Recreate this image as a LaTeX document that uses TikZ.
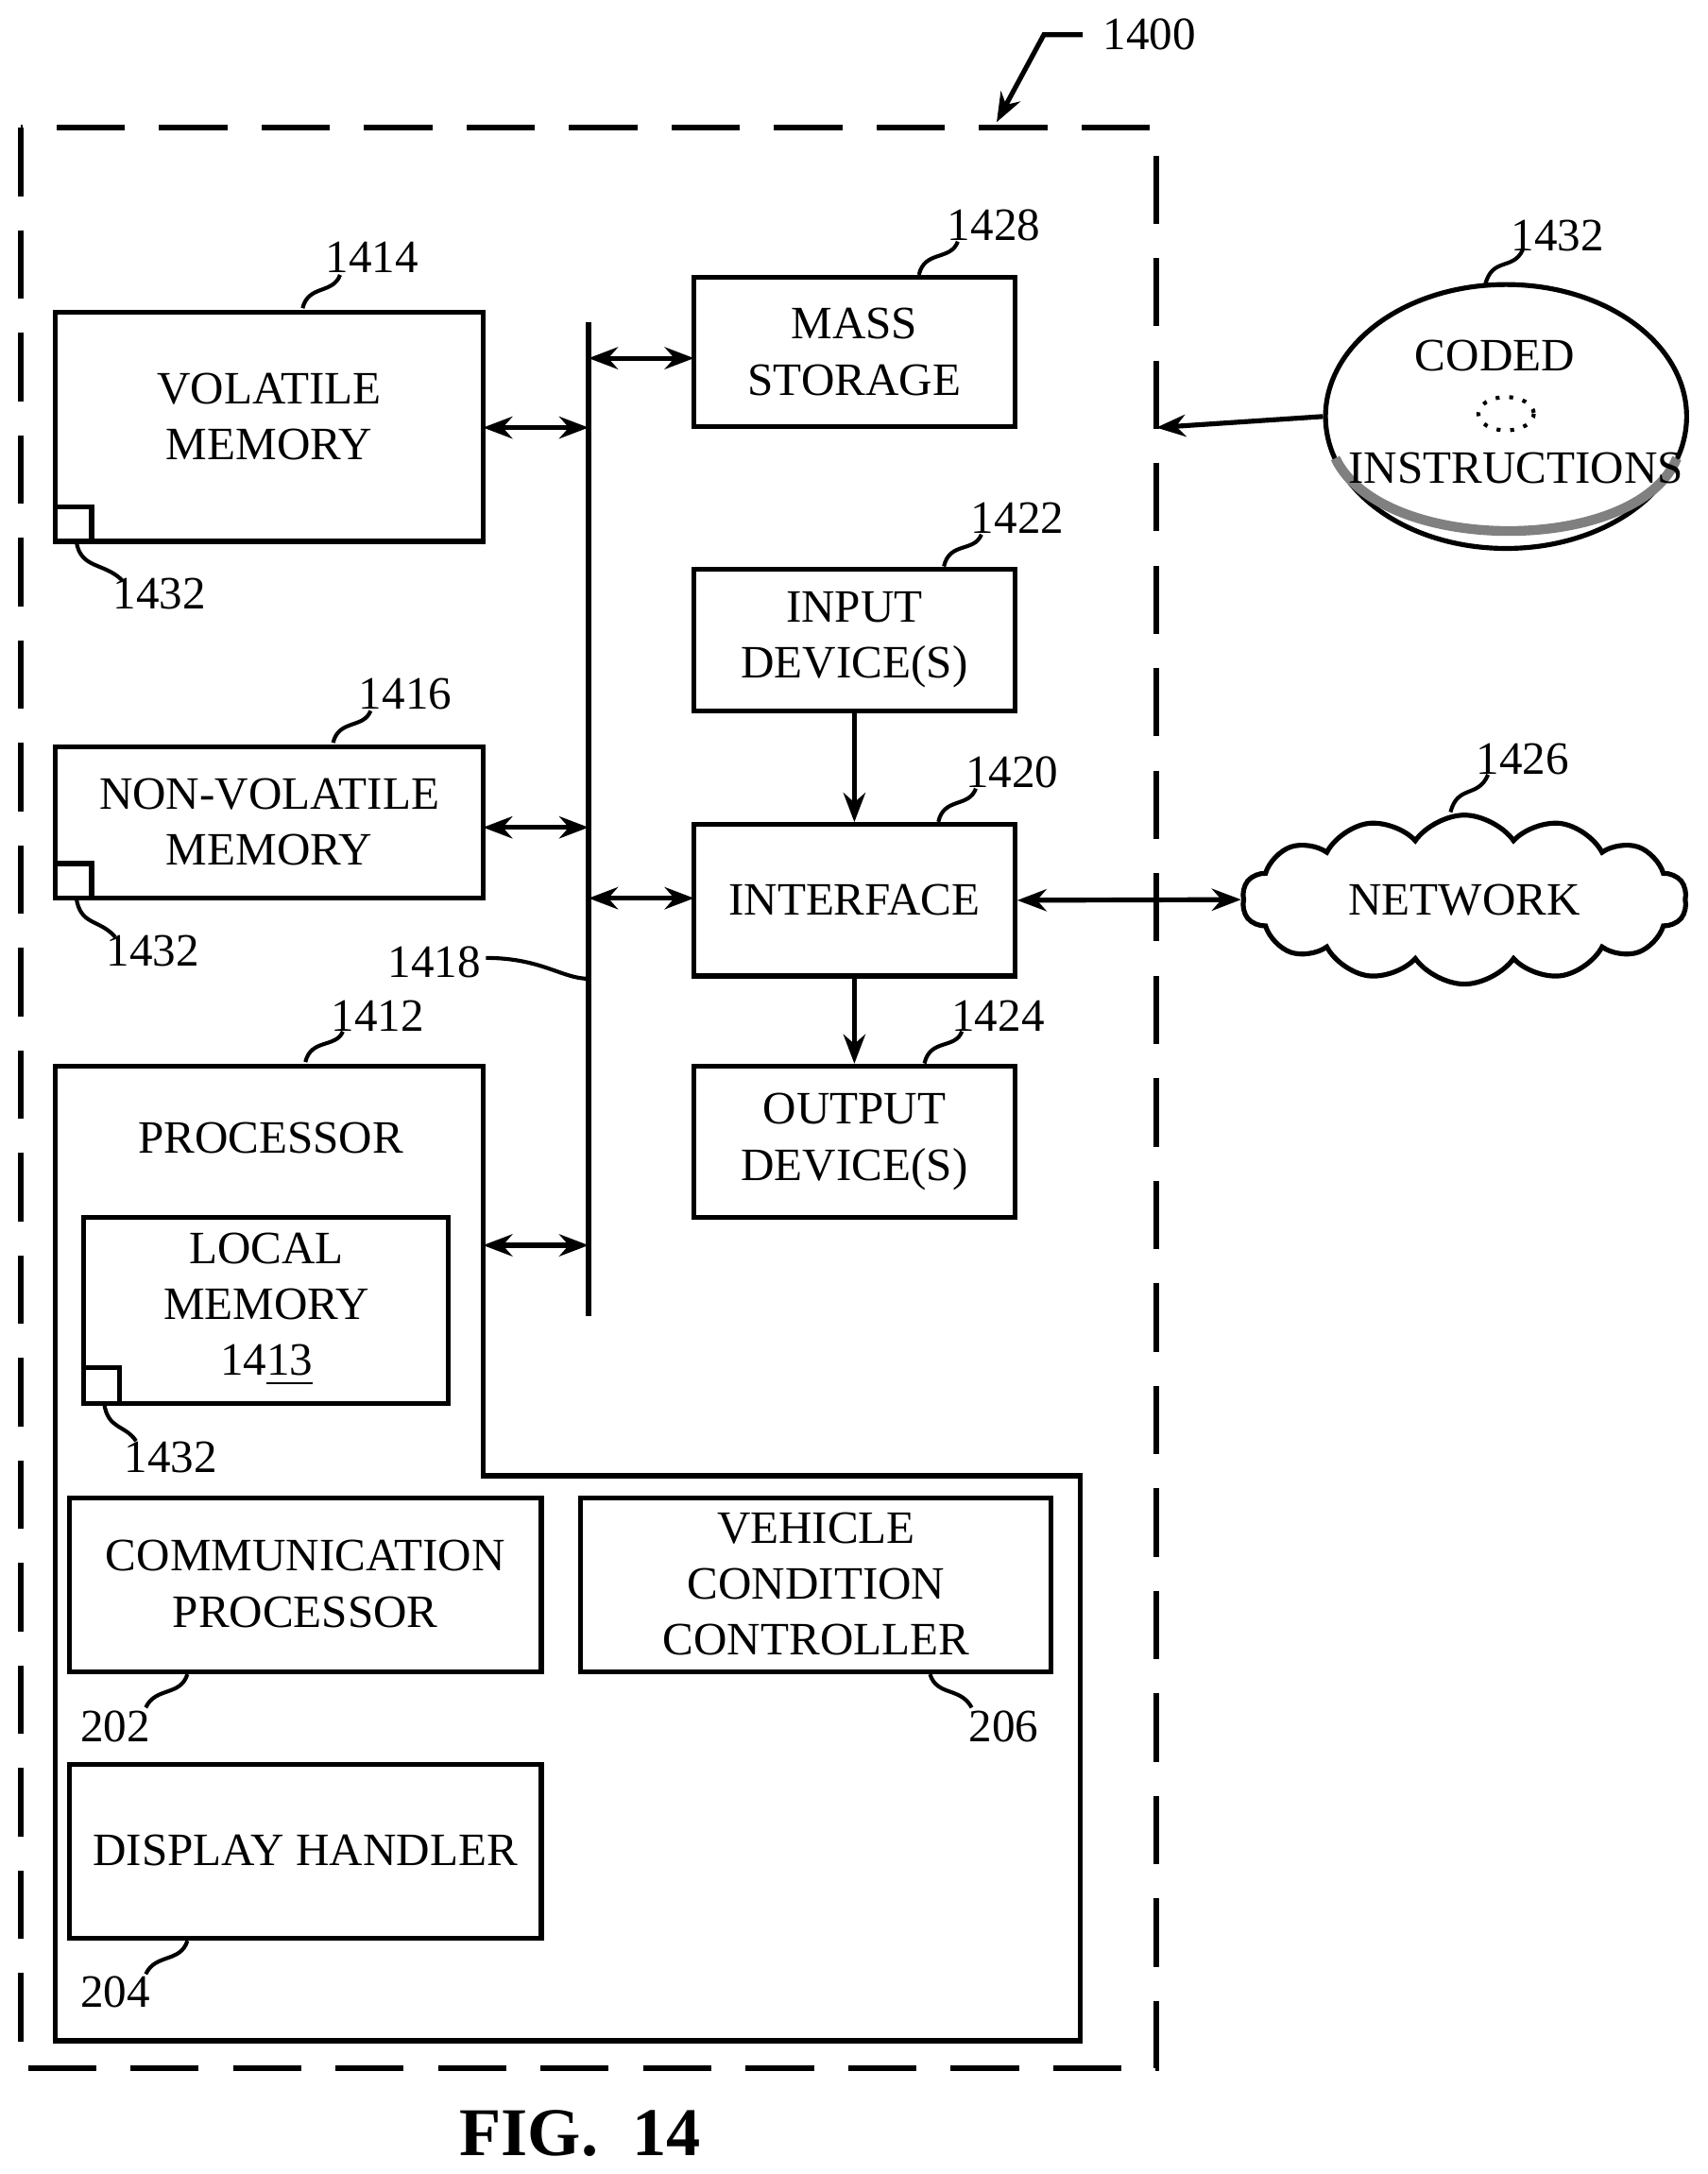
\documentclass[tikz,border=0pt]{standalone}
\usepackage{fontspec}
\setmainfont{Liberation Serif}
\usetikzlibrary{arrows.meta,shapes.symbols,shapes.geometric}

\begin{document}
\begin{tikzpicture}[x=0.01cm,y=-0.01cm,
    font=\fontsize{9.5}{11.5}\selectfont,
    box/.style={draw,line width=1pt,inner sep=0pt,align=center},
    conn/.style={line width=1pt,{Stealth[length=6pt]}-{Stealth[length=6pt]}},
    flow/.style={line width=1pt,-{Stealth[length=6pt]}},
    lead/.style={line width=0.8pt},
    tag/.style={inner sep=1pt}]
  \useasboundingbox (0,0) rectangle (1230,1566);

  % outer dashed frame
  \draw[line width=1.2pt,dash pattern=on 14pt off 7pt] (15,92) rectangle (833,1490);
  \node[tag] (l1400) at (828,25) {1400};
  \draw[flow] (780,25) -- (752,25) -- (718,88);

  % left column
  \draw[line width=1pt] (40,225) rectangle (348,390);
  \node[align=center] (voltxt) at (194,300) {VOLATILE\\MEMORY};
  \draw[line width=1pt] (40,365) rectangle (66,390);
  \node[tag] (l1432a) at (115,428) {1432};
  \draw[lead] (55,390) .. controls (58,410) and (75,405) .. (88,418);
  \node[tag] (l1414) at (268,185) {1414};
  \draw[lead] (218,222) .. controls (222,205) and (240,212) .. (245,198);

  \draw[line width=1pt] (40,538) rectangle (348,647);
  \node[align=center] (nvtxt) at (194,592) {NON-VOLATILE\\MEMORY};
  \draw[line width=1pt] (40,622) rectangle (66,647);
  \node[tag] (l1432b) at (110,685) {1432};
  \draw[lead] (55,647) .. controls (58,667) and (72,662) .. (83,675);
  \node[tag] (l1416) at (292,500) {1416};
  \draw[lead] (240,535) .. controls (244,518) and (262,525) .. (267,512);

  % processor
  \draw[line width=1pt] (40,768) -- (348,768) -- (348,1063) -- (778,1063)
    -- (778,1470) -- (40,1470) -- cycle;
  \node (proctxt) at (195,820) {PROCESSOR};
  \node[tag] (l1412) at (272,732) {1412};
  \draw[lead] (220,765) .. controls (224,748) and (242,755) .. (247,743);

  \draw[line width=1pt] (60,877) rectangle (323,1011);
  \node[align=center] (loctxt) at (192,943) {LOCAL\\MEMORY\\14\underline{13}};
  \draw[line width=1pt] (60,985) rectangle (86,1011);
  \node[tag] (l1432c) at (123,1050) {1432};
  \draw[lead] (75,1011) .. controls (78,1030) and (90,1026) .. (98,1038);

  \draw[line width=1pt] (50,1079) rectangle (390,1204);
  \node[align=center] (comm) at (220,1141) {COMMUNICATION\\PROCESSOR};
  \node[tag] (l202) at (83,1244) {202};
  \draw[lead] (135,1206) .. controls (130,1222) and (112,1215) .. (105,1230);

  \draw[line width=1pt] (418,1079) rectangle (757,1204);
  \node[align=center] (vcc) at (588,1141) {VEHICLE\\CONDITION\\CONTROLLER};
  \node[tag] (l206) at (723,1244) {206};
  \draw[lead] (670,1206) .. controls (675,1222) and (692,1215) .. (700,1230);

  \draw[line width=1pt] (50,1271) rectangle (390,1396);
  \node (disp) at (220,1333) {DISPLAY HANDLER};
  \node[tag] (l204) at (83,1435) {204};
  \draw[lead] (135,1398) .. controls (130,1414) and (112,1407) .. (105,1422);

  % bus
  \coordinate (bustop) at (424,232);
  \coordinate (busbot) at (424,948);
  \draw[line width=1.2pt] (bustop) -- (busbot);
  \node[tag] (l1418) at (313,693) {1418};
  \draw[lead] (350,690) .. controls (390,690) and (405,705) .. (424,705);

  \draw[conn] (348,308) -- (424,308);
  \draw[conn] (348,596) -- (424,596);
  \draw[conn] (348,897) -- (424,897);
  \draw[conn] (424,258) -- (500,258);
  \draw[conn] (424,647) -- (500,647);

  % right column
  \node[box,minimum width=2.31cm,minimum height=1.07cm] (mass) at (615.5,253.5) {MASS\\STORAGE};
  \node[tag] (l1428) at (716,162) {1428};
  \draw[lead] (662,198) .. controls (666,180) and (685,188) .. (690,174);

  \node[box,minimum width=2.31cm,minimum height=1.02cm] (input) at (615.5,461) {INPUT\\DEVICE(S)};
  \node[tag] (l1422) at (733,373) {1422};
  \draw[lead] (680,408) .. controls (684,390) and (702,398) .. (707,385);

  \node[box,minimum width=2.31cm,minimum height=1.09cm] (iface) at (615.5,648.5) {INTERFACE};
  \node[tag] (l1420) at (729,556) {1420};
  \draw[lead] (676,592) .. controls (680,574) and (698,582) .. (703,568);

  \node[box,minimum width=2.31cm,minimum height=1.09cm] (output) at (615.5,822.5) {OUTPUT\\DEVICE(S)};
  \node[tag] (l1424) at (719,732) {1424};
  \draw[lead] (666,766) .. controls (670,748) and (688,756) .. (693,743);

  \draw[flow] (input) -- (iface);
  \draw[flow] (iface) -- (output);

  % network
  \node[cloud,draw,line width=1pt,cloud puffs=14,cloud puff arc=110,aspect=2.9,
    minimum width=3.2cm,minimum height=1.1cm] (net) at (1055,648) {NETWORK};
  \node[tag] (l1426) at (1097,547) {1426};
  \draw[lead] (1045,585) .. controls (1050,565) and (1065,575) .. (1072,558);
  \draw[conn] (iface.east) -- (net.west);

  % coded instructions disc
  \node[draw,ellipse,line width=1pt,minimum width=2.6cm,minimum height=1.9cm] (disc) at (1085,300) {};
  \draw[gray,line width=2pt] (962,330) .. controls (995,400) and (1180,400) .. (1208,330);
  \draw[dotted,line width=0.8pt] (1085,298) ellipse (20 and 12);
  \node (codtxt) at (1077,256) {CODED};
  \node (instxt) at (1092,337) {INSTRUCTIONS};
  \node[tag] (l1432d) at (1122,170) {1432};
  \draw[lead] (1070,205) .. controls (1075,185) and (1090,195) .. (1097,180);
  \coordinate (frameR) at (833,308);
  \draw[flow] (disc.west) -- (frameR);

  \node[font=\fontsize{14}{16}\bfseries\selectfont] (fig) at (418,1537) {FIG.\ \ 14};
\end{tikzpicture}
\end{document}
